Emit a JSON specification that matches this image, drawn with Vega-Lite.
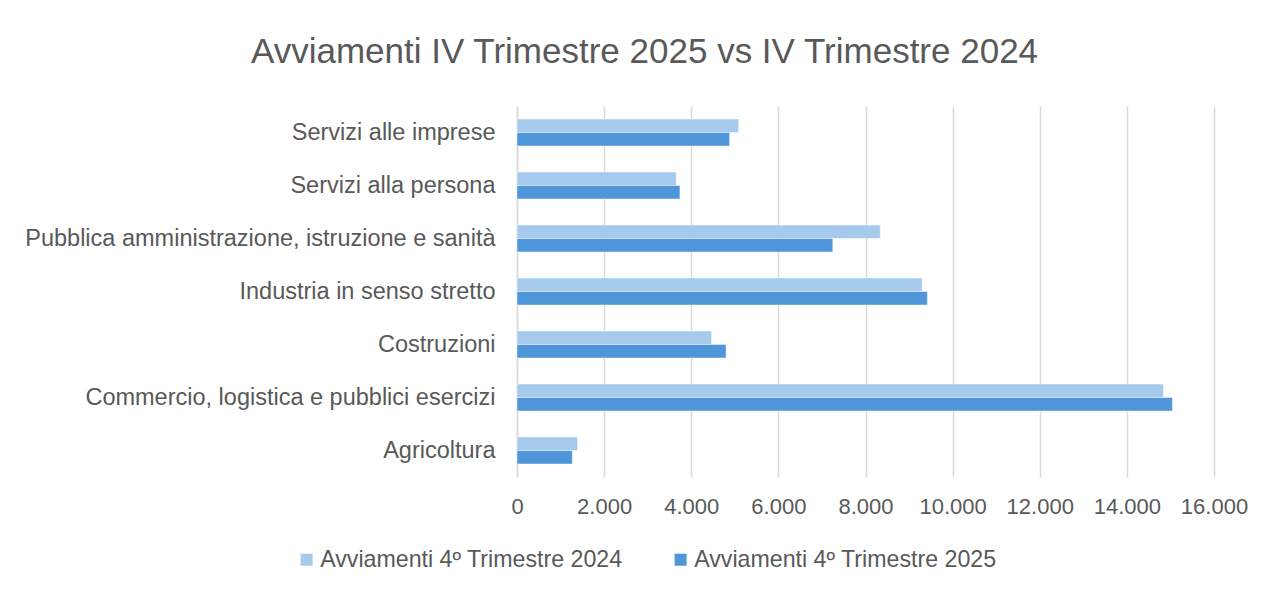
{
  "$schema": "https://vega.github.io/schema/vega-lite/v6.json",
  "width": 697,
  "height": 371,
  "autosize": {"type": "none"},
  "padding": {"left": 517, "top": 106, "right": 58, "bottom": 117},
  "background": "white",
  "config": {
    "locale": {"number": {"decimal": ",", "thousands": ".", "grouping": [3], "currency": ["€", ""]}},
    "view": {"stroke": null},
    "font": "Liberation Sans"
  },
  "title": {
    "text": "Avviamenti IV Trimestre 2025 vs IV Trimestre 2024",
    "fontSize": 35,
    "fontWeight": "normal",
    "color": "#595959",
    "anchor": "middle",
    "dx": -221,
    "offset": 36,
    "font": "Liberation Sans"
  },
  "data": {
    "values": [
      {"settore": "Servizi alle imprese", "serie": "Avviamenti 4º Trimestre 2024", "valore": 5090},
      {"settore": "Servizi alle imprese", "serie": "Avviamenti 4º Trimestre 2025", "valore": 4880},
      {"settore": "Servizi alla persona", "serie": "Avviamenti 4º Trimestre 2024", "valore": 3655},
      {"settore": "Servizi alla persona", "serie": "Avviamenti 4º Trimestre 2025", "valore": 3740},
      {"settore": "Pubblica amministrazione, istruzione e sanità", "serie": "Avviamenti 4º Trimestre 2024", "valore": 8340},
      {"settore": "Pubblica amministrazione, istruzione e sanità", "serie": "Avviamenti 4º Trimestre 2025", "valore": 7250},
      {"settore": "Industria in senso stretto", "serie": "Avviamenti 4º Trimestre 2024", "valore": 9300},
      {"settore": "Industria in senso stretto", "serie": "Avviamenti 4º Trimestre 2025", "valore": 9420},
      {"settore": "Costruzioni", "serie": "Avviamenti 4º Trimestre 2024", "valore": 4466},
      {"settore": "Costruzioni", "serie": "Avviamenti 4º Trimestre 2025", "valore": 4800},
      {"settore": "Commercio, logistica e pubblici esercizi", "serie": "Avviamenti 4º Trimestre 2024", "valore": 14840},
      {"settore": "Commercio, logistica e pubblici esercizi", "serie": "Avviamenti 4º Trimestre 2025", "valore": 15046},
      {"settore": "Agricoltura", "serie": "Avviamenti 4º Trimestre 2024", "valore": 1392},
      {"settore": "Agricoltura", "serie": "Avviamenti 4º Trimestre 2025", "valore": 1270}
    ]
  },
  "mark": {"type": "bar", "stroke": "white", "strokeWidth": 0.8, "strokeOpacity": 0.6},
  "encoding": {
    "y": {
      "field": "settore",
      "type": "nominal",
      "sort": null,
      "scale": {"paddingInner": 0.49, "paddingOuter": 0.245},
      "axis": {
        "title": null,
        "labelFontSize": 23.5,
        "labelColor": "#595959",
        "labelPadding": 22,
        "labelLimit": 600,
        "ticks": false,
        "domain": true,
        "domainColor": "#d9d9d9",
        "domainWidth": 1.5,
        "grid": false
      }
    },
    "yOffset": {
      "field": "serie",
      "type": "nominal",
      "sort": ["Avviamenti 4º Trimestre 2024", "Avviamenti 4º Trimestre 2025"]
    },
    "x": {
      "field": "valore",
      "type": "quantitative",
      "scale": {"domain": [0, 16000], "nice": false},
      "axis": {
        "title": null,
        "values": [0, 2000, 4000, 6000, 8000, 10000, 12000, 14000, 16000],
        "format": ",d",
        "labelFontSize": 22,
        "labelColor": "#595959",
        "labelPadding": 19,
        "labelOverlap": false,
        "labelFlush": false,
        "ticks": false,
        "domain": false,
        "grid": true,
        "gridColor": "#d9d9d9",
        "gridWidth": 1.5
      }
    },
    "color": {
      "field": "serie",
      "type": "nominal",
      "scale": {
        "domain": ["Avviamenti 4º Trimestre 2024", "Avviamenti 4º Trimestre 2025"],
        "range": ["#A6CAEC", "#4E95D9"]
      },
      "legend": {
        "title": null,
        "orient": "none",
        "direction": "horizontal",
        "legendX": -222,
        "legendY": 442,
        "symbolType": "square",
        "symbolSize": 144,
        "symbolStrokeWidth": 0,
        "labelFontSize": 23.2,
        "labelColor": "#595959",
        "labelLimit": 400,
        "columnPadding": 46,
        "symbolOffset": 0,
        "labelOffset": 2
      }
    }
  }
}
